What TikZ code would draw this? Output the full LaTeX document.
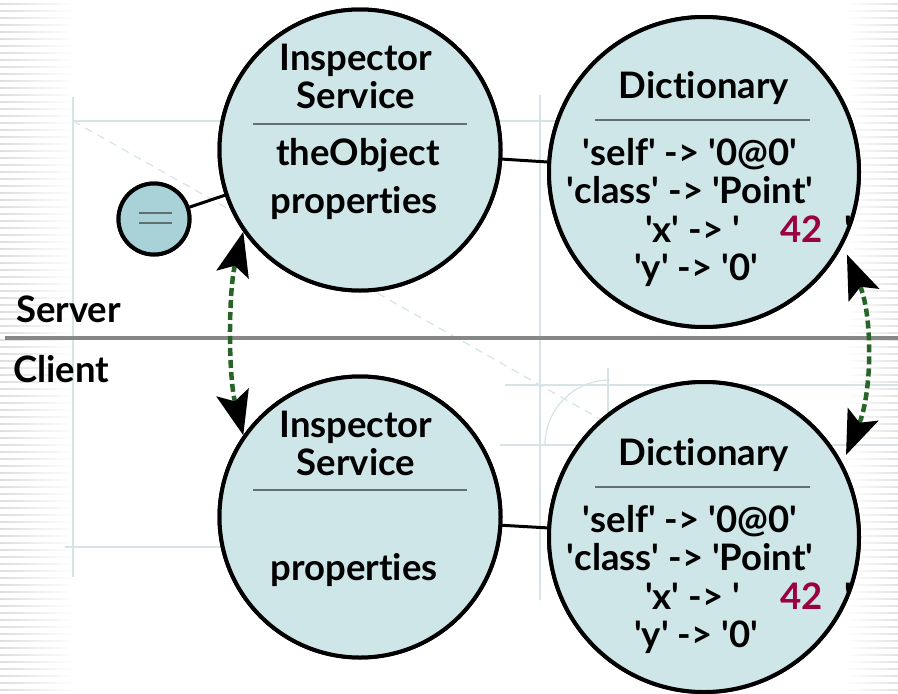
\documentclass[tikz,border=0pt]{standalone}
\usepackage{fontspec}
\setmainfont{Lato}[Ligatures={TeX,NoCommon}]
\usetikzlibrary{arrows.meta,calc}
\definecolor{circfill}{RGB}{207,230,233}
\definecolor{smallfill}{RGB}{168,210,216}
\definecolor{sepline}{RGB}{96,112,112}
\definecolor{valred}{RGB}{155,0,65}
\definecolor{dashgreen}{RGB}{40,100,40}
\definecolor{faint}{RGB}{214,228,230}
\newcommand{\qq}{\textquotesingle}
\pgfdeclareradialshading{glow}{\pgfpoint{0bp}{0bp}}{color(0bp)=(white); color(36bp)=(white); color(48bp)=(black!10); color(50bp)=(black!14)}
\tikzset{
  bigcirc/.style={circle, draw=black, line width=4pt, fill=circfill, inner sep=0pt},
  smallcirc/.style={circle, draw=black, line width=4pt, fill=smallfill, inner sep=0pt, minimum size=71pt},
  txt/.style={anchor=base, inner sep=0pt, font=\fontsize{36.5}{40}\selectfont\bfseries},
  sep/.style={draw=sepline, line width=1.5pt},
  link/.style={draw=black, line width=3pt},
  sync/.style={draw=dashgreen, line width=4.5pt, dash pattern=on 8pt off 4pt,
    {Stealth[length=44pt,width=33pt,inset=9pt,color=black,fill=black]}-{Stealth[length=44pt,width=33pt,inset=9pt,color=black,fill=black]}},
  bgline/.style={draw=faint, line width=1.2pt}
}
\begin{document}
\begin{tikzpicture}[x=1pt,y=-1pt]
\useasboundingbox (0,0) rectangle (898,694);
% ---- faint background drawing ----
\begin{scope}
  \clip (0,0) rectangle (898,547);
  \shade[shading=glow] (560,580) circle (485);
\end{scope}
\foreach \yy in {3,10,...,694} {
  \shade[left color=black!13, right color=white] (0,\yy) rectangle (75,\yy+1.6);
  \shade[left color=white, right color=black!11] (845,\yy) rectangle (898,\yy+1.6);
}
\draw[bgline] (73,97) -- (73,577);
\draw[bgline] (73,121) -- (560,121);
\draw[bgline, dashed, dash pattern=on 8pt off 6pt] (73,121) -- (600,419);
\draw[bgline] (540,95) -- (540,600);
\draw[bgline] (505,385) -- (898,385);
\draw[bgline] (500,445) -- (898,445);
\draw[bgline] (65,547) -- (225,547);
\draw[bgline] (608,368) -- (608,445);
\draw[bgline] (545,445) arc (180:270:65);
% ---- separator server / client ----
\coordinate (sl) at (5,338);
\coordinate (sr) at (898,338);
\draw[draw=black!47, line width=4pt] (sl) -- (sr);
\node[anchor=base west, inner sep=0pt, font=\fontsize{36.5}{40}\selectfont\bfseries] (server) at (16,322) {Server};
\node[anchor=base west, inner sep=0pt, font=\fontsize{36.5}{40}\selectfont\bfseries] (client) at (13,382) {Client};
% ---- circles ----
\node[bigcirc, minimum size=281pt] (is1) at (360,150) {};
\node[bigcirc, minimum size=310pt] (d1) at (704,172) {};
\node[bigcirc, minimum size=281pt] (is2) at (360,517) {};
\node[bigcirc, minimum size=310pt] (d2) at (704,537) {};
\node[smallcirc] (eq) at (154,219) {};
\coordinate (eqa) at (139,213); \coordinate (eqb) at (172,213);
\coordinate (eqc) at (139,223); \coordinate (eqd) at (172,223);
% ---- links ----
\draw[link] (eq) -- (is1);
\draw[link] (is1) -- (d1);
\draw[link] (is2) -- (d2);
% redraw circles above the links
\node[bigcirc, minimum size=281pt] at (is1.center) {};
\node[bigcirc, minimum size=310pt] at (d1.center) {};
\node[bigcirc, minimum size=281pt] at (is2.center) {};
\node[bigcirc, minimum size=310pt] at (d2.center) {};
\node[smallcirc] at (eq.center) {};
\draw[draw=sepline, line width=1.5pt] (eqa) -- (eqb) (eqc) -- (eqd);
% ---- texts top inspector ----
\node[txt] (is1a) at (356,70) {Inspector};
\node[txt] (is1b) at (356,108) {Service};
\coordinate (s1l) at (253,124); \coordinate (s1r) at (467,124);
\draw[sep] (s1l) -- (s1r);
\node[txt] (is1c) at (358,165) {theObject};
\node[txt] (is1d) at (354,213) {properties};
% ---- texts top dictionary ----
\node[txt] (d1a) at (704,98) {Dictionary};
\coordinate (t1l) at (595,120); \coordinate (t1r) at (810,120);
\draw[sep] (t1l) -- (t1r);
\node[txt] (d1b) at (690,165) {\qq self\qq{} -> \qq 0@0\qq};
\node[txt] (d1c) at (690,203) {\qq class\qq{} -> \qq Point\qq};
\node[txt, anchor=base west] (d1d) at (645,242) {\qq x\qq{} -> \qq};
\node[txt, anchor=base west, text=valred] (d1e) at (780,242) {42};
\node[txt, anchor=base west] (d1f) at (844,242) {\qq};
\node[txt] (d1g) at (696,280) {\qq y\qq{} -> \qq 0\qq};
% ---- texts bottom inspector ----
\node[txt] (is2a) at (356,437) {Inspector};
\node[txt] (is2b) at (356,475) {Service};
\coordinate (s2l) at (253,490); \coordinate (s2r) at (467,490);
\draw[sep] (s2l) -- (s2r);
\node[txt] (is2d) at (354,580) {properties};
% ---- texts bottom dictionary ----
\node[txt] (d2a) at (704,465) {Dictionary};
\coordinate (t2l) at (595,487); \coordinate (t2r) at (810,487);
\draw[sep] (t2l) -- (t2r);
\node[txt] (d2b) at (690,532) {\qq self\qq{} -> \qq 0@0\qq};
\node[txt] (d2c) at (690,570) {\qq class\qq{} -> \qq Point\qq};
\node[txt, anchor=base west] (d2d) at (645,609) {\qq x\qq{} -> \qq};
\node[txt, anchor=base west, text=valred] (d2e) at (780,609) {42};
\node[txt, anchor=base west] (d2f) at (844,609) {\qq};
\node[txt] (d2g) at (696,647) {\qq y\qq{} -> \qq 0\qq};
% ---- sync arrows ----
\coordinate (ra) at ($(d1.center)!165pt!(d1.330)$);
\coordinate (rb) at ($(d2.center)!164pt!(d2.30)$);
\draw[sync] (is1.215) .. controls +(-15,60) and +(-15,-60) .. (is2.145);
\draw[sync] (ra) .. controls +(26,62) and +(26,-62) .. (rb);
\end{tikzpicture}
\end{document}
